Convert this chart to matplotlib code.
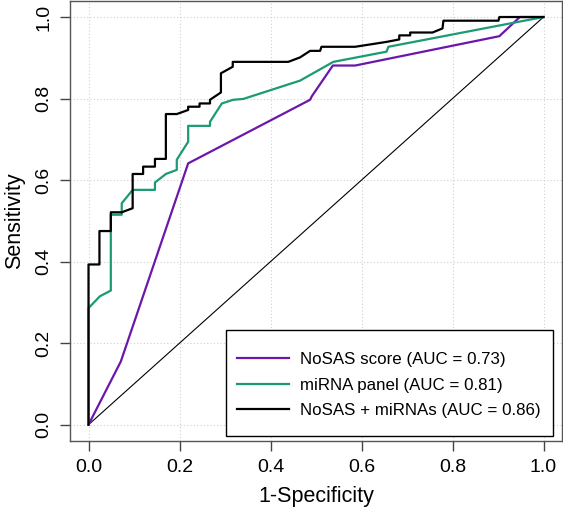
import matplotlib
matplotlib.use("Agg")
import matplotlib.pyplot as plt
from matplotlib.patches import Rectangle

plt.rcParams['font.family'] = ['Liberation Sans', 'DejaVu Sans']

# ROC curves (1-specificity, sensitivity)
nosas_fpr = [0, 0.071, 0.219, 0.487, 0.491, 0.537, 0.586, 0.903, 0.948, 1.0]
nosas_tpr = [0, 0.155, 0.641, 0.797, 0.806, 0.881, 0.881, 0.953, 1.0, 1.0]

mirna_fpr = [0, 0, 0.025, 0.049, 0.049, 0.073, 0.073, 0.097, 0.146, 0.146, 0.170, 0.194,
             0.194, 0.219, 0.219, 0.267, 0.267, 0.293, 0.318, 0.340, 0.465, 0.538, 0.655,
             0.659, 1.0]
mirna_tpr = [0, 0.286, 0.315, 0.329, 0.515, 0.515, 0.543, 0.576, 0.576, 0.594, 0.615, 0.625,
             0.650, 0.694, 0.733, 0.733, 0.743, 0.788, 0.797, 0.799, 0.844, 0.890, 0.915,
             0.927, 1.0]

combo_fpr = [0, 0, 0.024, 0.024, 0.049, 0.049, 0.073, 0.097, 0.097, 0.12, 0.12, 0.146,
             0.146, 0.170, 0.170, 0.194, 0.219, 0.219, 0.244, 0.244, 0.267, 0.267, 0.291,
             0.291, 0.317, 0.317, 0.439, 0.465, 0.487, 0.509, 0.512, 0.586, 0.655, 0.683,
             0.683, 0.707, 0.707, 0.756, 0.778, 0.780, 0.901, 0.903, 1.0]
combo_tpr = [0, 0.393, 0.393, 0.475, 0.475, 0.521, 0.521, 0.531, 0.615, 0.615, 0.633, 0.633,
             0.652, 0.652, 0.762, 0.762, 0.772, 0.780, 0.780, 0.788, 0.788, 0.797, 0.815,
             0.862, 0.878, 0.890, 0.890, 0.901, 0.917, 0.917, 0.927, 0.927, 0.939, 0.945,
             0.955, 0.955, 0.962, 0.962, 0.972, 0.991, 0.991, 1.0, 1.0]

labels = ['NoSAS score (AUC = 0.73)', 'miRNA panel (AUC = 0.81)', 'NoSAS + miRNAs (AUC = 0.86)']
colors = ['#6c17ab', '#1b9b74', 'black']
ticks = [0.0, 0.2, 0.4, 0.6, 0.8, 1.0]

fig = plt.figure(figsize=(5.63, 5.12), dpi=100)
ax = fig.add_axes([0.1249, 0.1387, 0.8728, 0.8599])

ax.set_xlim(-0.04, 1.04)
ax.set_ylim(-0.04, 1.04)
for t in ticks:
    ax.axvline(t, color='#d0d0d0', lw=0.8, ls=(0, (1, 2)), zorder=0)
    ax.axhline(t, color='#d0d0d0', lw=0.8, ls=(0, (1, 2)), zorder=0)

ax.plot([0, 1], [0, 1], color='black', lw=0.8, zorder=1)
ax.plot(nosas_fpr, nosas_tpr, color=colors[0], lw=1.6, label=labels[0], zorder=2)
ax.plot(mirna_fpr, mirna_tpr, color=colors[1], lw=1.6, label=labels[1], zorder=3)
ax.plot(combo_fpr, combo_tpr, color=colors[2], lw=1.6, label=labels[2], zorder=4)

ax.set_xticks(ticks)
ax.set_yticks(ticks)
ax.set_xticklabels(['%.1f' % t for t in ticks], fontsize=14)
ax.set_yticklabels(['%.1f' % t for t in ticks], fontsize=14, rotation=90, va='center')
ax.tick_params(length=7, width=1, color='#444444', pad=6)
for s in ax.spines.values():
    s.set_color('#555555')
    s.set_linewidth(1)

ax.set_xlabel('1-Specificity', fontsize=15.5, labelpad=7)
ax.set_ylabel('Sensitivity', fontsize=15.5, labelpad=7)

# legend box drawn separately: R pads the box more vertically than sideways
ax.add_patch(Rectangle((0.3169, 0.0114), 0.6656, 0.2407, transform=ax.transAxes,
                       facecolor='white', edgecolor='black', lw=1, zorder=5))
leg = ax.legend(loc='lower right', bbox_to_anchor=(0.982, 0.0225), fontsize=12.2, frameon=False,
                borderaxespad=0, handlelength=3.1, handletextpad=0.6, borderpad=0.75,
                labelspacing=0.62)
leg.set_zorder(6)

fig.savefig('out.png', dpi=100)
